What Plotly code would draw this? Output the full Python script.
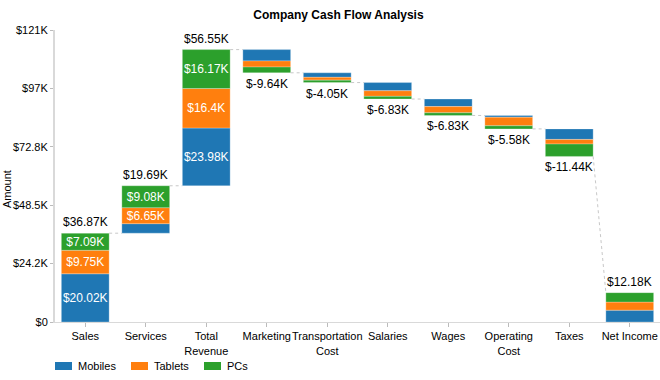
import plotly.graph_objects as go

categories = ["Sales", "Services", "Total<br>Revenue", "Marketing", "Transportation<br>Cost",
              "Salaries", "Wages", "Operating<br>Cost", "Taxes", "Net Income"]
kinds = ["up", "up", "up", "down", "down", "down", "down", "down", "down", "total"]
mobiles = [20.024, 3.96, 23.98, 4.70, 1.87, 3.40, 3.15, 0.73, 4.37, 4.91]
tablets = [9.754, 6.65, 16.40, 2.55, 1.17, 2.33, 2.58, 3.56, 1.92, 3.36]
pcs = [7.094, 9.08, 16.17, 2.39, 1.01, 1.10, 1.10, 1.29, 5.15, 3.91]
series_names = ["Mobiles", "Tablets", "PCs"]
colors = ["#1f77b4", "#ff7f0e", "#2ca02c"]
y_tickvals = [0, 24.25, 48.5, 72.75, 97.0, 121.25]
y_ticktext = ["$0", "$24.2K", "$48.5K", "$72.8K", "$97K", "$121K"]

FONT = "Liberation Sans, Arial, sans-serif"
BAR_W = 0.79
W, H = 660, 380
ML, MR, MT, MB = 55, 0, 30, 58
PW, PH = W - ML - MR, H - MT - MB


def fmt(v):
    s = f"{v:.2f}".rstrip("0").rstrip(".")
    return f"${s}K"


def px(xp):
    return (xp - ML) / PW


def py(yp):
    return (H - MB - yp) / PH


xs = list(range(len(categories)))
totals = [m + t + p for m, t, p in zip(mobiles, tablets, pcs)]

starts, ends = [], []
running = 0.0
for k, tot in zip(kinds, totals):
    if k == "total":
        s, e = 0.0, tot
    elif k == "up":
        s, e = running, running + tot
    else:
        s, e = running, running - tot
    starts.append(s)
    ends.append(e)
    running = e

bases = {n: [] for n in series_names}
for i, k in enumerate(kinds):
    m, t, p = mobiles[i], tablets[i], pcs[i]
    s = starts[i]
    if k == "down":
        bases["Mobiles"].append(s - m)
        bases["Tablets"].append(s - m - t)
        bases["PCs"].append(s - m - t - p)
    else:
        bases["Mobiles"].append(s)
        bases["Tablets"].append(s + m)
        bases["PCs"].append(s + m + t)

fig = go.Figure()

# connectors
cx, cy = [], []
for i in range(len(categories) - 1):
    y_next = ends[i + 1] if kinds[i + 1] == "total" else starts[i + 1]
    cx += [i + BAR_W / 2, i + 1 - BAR_W / 2, None]
    cy += [ends[i], y_next, None]
fig.add_trace(go.Scatter(x=cx, y=cy, mode="lines", showlegend=False, hoverinfo="skip",
                         line=dict(color="#c8c8c8", width=1, dash="dot")))

for name, vals, col in zip(series_names, [mobiles, tablets, pcs], colors):
    texts = [fmt(v) if (kinds[i] != "down" and v >= 6) else "" for i, v in enumerate(vals)]
    fig.add_trace(go.Bar(
        x=xs, y=vals, base=bases[name], name=name, width=BAR_W, showlegend=False,
        marker=dict(color=col, line=dict(width=0.6, color="rgba(255,255,255,0.45)")),
        text=texts, textposition="inside", insidetextanchor="middle",
        textangle=0, constraintext="none",
        textfont=dict(color="white", size=12, family=FONT),
    ))

# total labels
for i, k in enumerate(kinds):
    if k == "down":
        fig.add_annotation(x=xs[i], y=ends[i], text=fmt(-totals[i]), showarrow=False,
                           xanchor="center", yanchor="top", yshift=-2,
                           font=dict(size=12, color="black", family=FONT))
    else:
        fig.add_annotation(x=xs[i], y=ends[i], text=fmt(totals[i]), showarrow=False,
                           xanchor="center", yanchor="bottom", yshift=2,
                           font=dict(size=12, color="black", family=FONT))

# y-axis title
fig.add_annotation(text="Amount", xref="paper", yref="paper", x=px(7), y=py(189),
                   xanchor="center", yanchor="middle", textangle=-90, showarrow=False,
                   font=dict(size=11, family=FONT, color="black"))

# legend (drawn)
legend_items = [(55, 76), (131, 152), (204, 225)]
for (rx, tx), name, col in zip(legend_items, series_names, colors):
    fig.add_shape(type="rect", xref="paper", yref="paper",
                  x0=px(rx), x1=px(rx + 17), y0=py(370), y1=py(362),
                  fillcolor=col, line=dict(width=0))
    fig.add_annotation(text=name, xref="paper", yref="paper", x=px(tx), y=py(365.5),
                       xanchor="left", yanchor="middle", showarrow=False,
                       font=dict(size=11, family=FONT, color="black"))

fig.update_layout(
    width=W, height=H,
    margin=dict(l=ML, r=MR, t=MT, b=MB, autoexpand=False),
    paper_bgcolor="white", plot_bgcolor="white",
    barmode="overlay",
    font=dict(family=FONT, size=11, color="black"),
    title=dict(text="<b>Company Cash Flow Analysis</b>", x=px(338.5), xref="paper",
               xanchor="center", y=1 - 15 / H, yanchor="middle",
               font=dict(size=12, family=FONT, color="black")),
    showlegend=False,
    xaxis=dict(range=[-0.5, 9.5], tickmode="array", tickvals=xs, ticktext=categories,
               tickangle=0, automargin=False,
               showgrid=False, zeroline=False, showline=True, linecolor="#d9d9d9", linewidth=1,
               ticks="outside", ticklen=4, tickcolor="#bbbbbb", tickfont=dict(size=11),
               fixedrange=True),
    yaxis=dict(range=[0, 121.25], tickmode="array", tickvals=y_tickvals, ticktext=y_ticktext,
               automargin=False,
               showgrid=False, zeroline=False, showline=True, linecolor="#d9d9d9", linewidth=2,
               ticks="outside", ticklen=3, tickcolor="#bbbbbb", tickfont=dict(size=11),
               fixedrange=True),
)

fig.write_html("out.html", config={"displayModeBar": False},
               post_script="document.body.style.margin='0px';")
